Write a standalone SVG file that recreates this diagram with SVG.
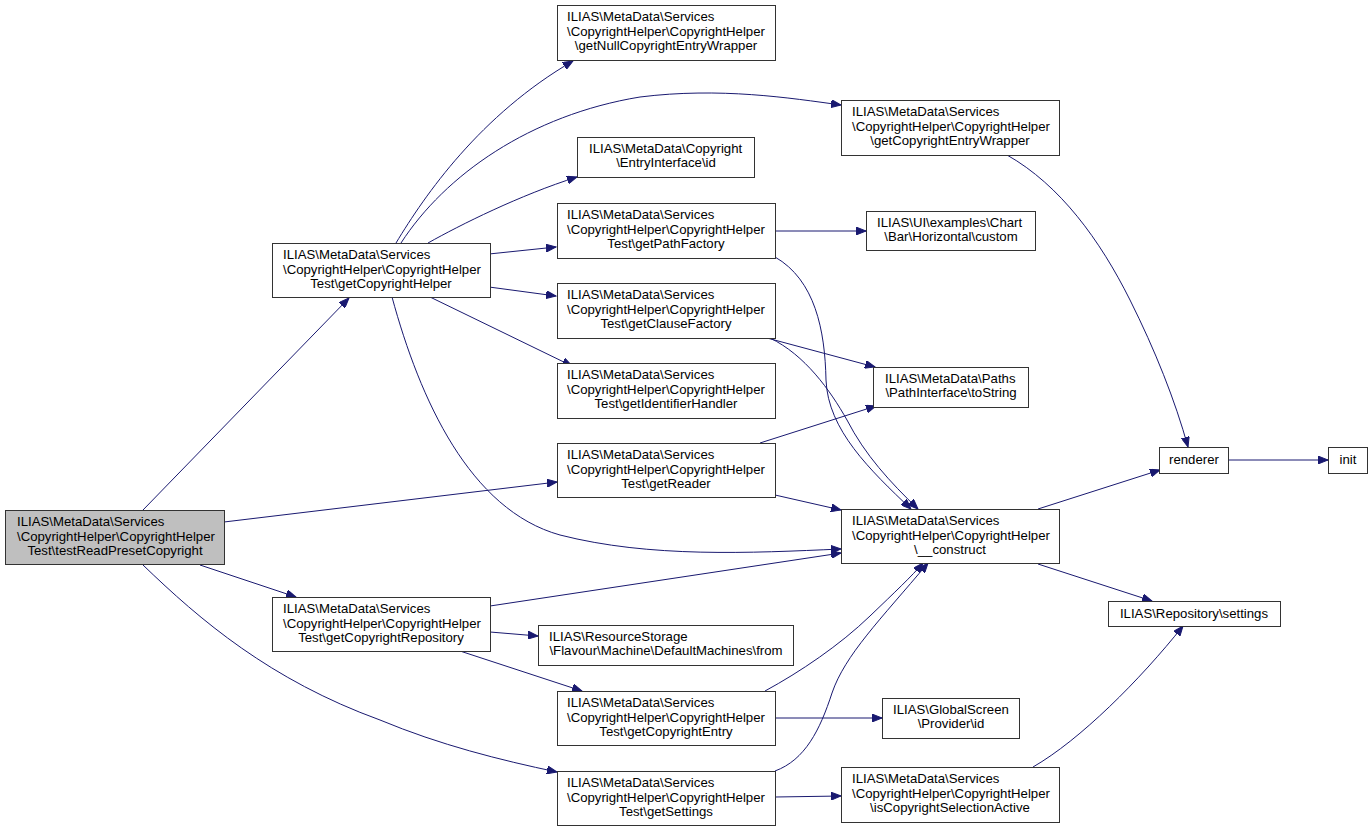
<svg xmlns="http://www.w3.org/2000/svg" width="1372" height="832" viewBox="0 0 1372 832">
<style>
.n rect{fill:#fff;stroke:#333;stroke-width:1}
.n.cur rect{fill:#bfbfbf}
text{font-family:"Liberation Sans",Arial,Helvetica,sans-serif;font-size:13.2px;fill:#000}
.c{text-anchor:middle}
.e path{fill:none;stroke:#191970;stroke-width:1;marker-end:url(#a)}
</style>
<defs>
<marker id="a" markerUnits="userSpaceOnUse" markerWidth="11" markerHeight="8" refX="10" refY="4" orient="auto">
<path d="M0,0 L10,4 L0,8 z" fill="#191970" stroke="#191970" stroke-width="1"/>
</marker>
</defs>
<rect width="1372" height="832" fill="#fff"/>
<g class="e" id="edges">
<path d="M143,510 L349,298"/>
<path d="M224,522 L557,482"/>
<path d="M200,565 L296,597"/>
<path d="M143,565 C200,620 270,680 380,720 C440,745 500,760 557,772"/>
<path d="M396,243 C425,195 480,115 573,61"/>
<path d="M401,243 C445,175 530,115 640,97 C720,87 790,98 841,105"/>
<path d="M428,243 C460,225 520,195 577,177"/>
<path d="M489,254 L556,247"/>
<path d="M489,287 L556,296"/>
<path d="M430,297 L572,366"/>
<path d="M392,297 C420,400 470,510 560,535 C650,558 750,553 841,549"/>
<path d="M775,231 L866,231"/>
<path d="M775,257 C815,280 825,330 826,380 C828,430 870,470 911,509"/>
<path d="M770,338 C805,355 830,390 847,420 C865,455 890,482 918,509"/>
<path d="M767,338 L875,367"/>
<path d="M760,443 L876,406"/>
<path d="M775,495 L841,510"/>
<path d="M1007,155 C1060,185 1100,240 1130,300 C1155,350 1175,400 1188,447"/>
<path d="M1038,509 L1160,470"/>
<path d="M1228,460 L1328,460"/>
<path d="M1038,564 L1152,601"/>
<path d="M1033,767 C1080,740 1140,680 1183,626"/>
<path d="M490,606 L841,553"/>
<path d="M490,632 L538,636"/>
<path d="M460,651 L582,691"/>
<path d="M765,691 C800,672 840,645 870,616 C895,592 912,576 923,563"/>
<path d="M775,771 C805,760 820,730 832,693 C845,655 880,620 928,563"/>
<path d="M775,718 L882,718"/>
<path d="M775,797 L841,796"/>
</g>
<g class="n cur" id="n1"><rect x="5.5" y="510.5" width="219" height="54"/>
<text x="17" y="526">ILIAS\MetaData\Services</text><text x="17" y="541">\CopyrightHelper\CopyrightHelper</text><text class="c" x="115" y="555">Test\testReadPresetCopyright</text></g>
<g class="n" id="n2"><rect x="272.5" y="243.5" width="218" height="54"/>
<text x="283" y="259">ILIAS\MetaData\Services</text><text x="283" y="274">\CopyrightHelper\CopyrightHelper</text><text class="c" x="381" y="288">Test\getCopyrightHelper</text></g>
<g class="n" id="n3"><rect x="557.5" y="5.5" width="218" height="55"/>
<text x="567" y="21">ILIAS\MetaData\Services</text><text x="567" y="36">\CopyrightHelper\CopyrightHelper</text><text class="c" x="666" y="50">\getNullCopyrightEntryWrapper</text></g>
<g class="n" id="n4"><rect x="841.5" y="100.5" width="218" height="55"/>
<text x="852" y="116">ILIAS\MetaData\Services</text><text x="852" y="131">\CopyrightHelper\CopyrightHelper</text><text class="c" x="950" y="145">\getCopyrightEntryWrapper</text></g>
<g class="n" id="n5"><rect x="577.5" y="137.5" width="177" height="40"/>
<text x="589" y="153">ILIAS\MetaData\Copyright</text><text class="c" x="666" y="167">\EntryInterface\id</text></g>
<g class="n" id="n6"><rect x="557.5" y="203.5" width="218" height="55"/>
<text x="567" y="219">ILIAS\MetaData\Services</text><text x="567" y="234">\CopyrightHelper\CopyrightHelper</text><text class="c" x="666" y="248">Test\getPathFactory</text></g>
<g class="n" id="n7"><rect x="866.5" y="211.5" width="169" height="39"/>
<text x="877" y="227">ILIAS\UI\examples\Chart</text><text class="c" x="951" y="241">\Bar\Horizontal\custom</text></g>
<g class="n" id="n8"><rect x="557.5" y="283.5" width="218" height="55"/>
<text x="567" y="299">ILIAS\MetaData\Services</text><text x="567" y="314">\CopyrightHelper\CopyrightHelper</text><text class="c" x="666" y="328">Test\getClauseFactory</text></g>
<g class="n" id="n9"><rect x="557.5" y="363.5" width="218" height="55"/>
<text x="567" y="379">ILIAS\MetaData\Services</text><text x="567" y="394">\CopyrightHelper\CopyrightHelper</text><text class="c" x="666" y="408">Test\getIdentifierHandler</text></g>
<g class="n" id="n10"><rect x="873.5" y="367.5" width="155" height="40"/>
<text x="885" y="383">ILIAS\MetaData\Paths</text><text class="c" x="951" y="397">\PathInterface\toString</text></g>
<g class="n" id="n11"><rect x="557.5" y="443.5" width="218" height="54"/>
<text x="567" y="459">ILIAS\MetaData\Services</text><text x="567" y="474">\CopyrightHelper\CopyrightHelper</text><text class="c" x="666" y="488">Test\getReader</text></g>
<g class="n" id="n12"><rect x="841.5" y="509.5" width="218" height="54"/>
<text x="852" y="525">ILIAS\MetaData\Services</text><text x="852" y="540">\CopyrightHelper\CopyrightHelper</text><text class="c" x="950" y="554">\__construct</text></g>
<g class="n" id="n13"><rect x="1159.5" y="447.5" width="69" height="26"/>
<text class="c" x="1194" y="464">renderer</text></g>
<g class="n" id="n14"><rect x="1328.5" y="447.5" width="39" height="26"/>
<text class="c" x="1348" y="464">init</text></g>
<g class="n" id="n15"><rect x="1108.5" y="601.5" width="172" height="25"/>
<text class="c" x="1194" y="618">ILIAS\Repository\settings</text></g>
<g class="n" id="n16"><rect x="272.5" y="597.5" width="218" height="54"/>
<text x="283" y="613">ILIAS\MetaData\Services</text><text x="283" y="628">\CopyrightHelper\CopyrightHelper</text><text class="c" x="381" y="642">Test\getCopyrightRepository</text></g>
<g class="n" id="n17"><rect x="538.5" y="625.5" width="255" height="40"/>
<text x="549" y="641">ILIAS\ResourceStorage</text><text class="c" x="666" y="655">\Flavour\Machine\DefaultMachines\from</text></g>
<g class="n" id="n18"><rect x="557.5" y="691.5" width="218" height="54"/>
<text x="567" y="707">ILIAS\MetaData\Services</text><text x="567" y="722">\CopyrightHelper\CopyrightHelper</text><text class="c" x="666" y="736">Test\getCopyrightEntry</text></g>
<g class="n" id="n19"><rect x="882.5" y="698.5" width="137" height="40"/>
<text x="893" y="714">ILIAS\GlobalScreen</text><text class="c" x="951" y="728">\Provider\id</text></g>
<g class="n" id="n20"><rect x="557.5" y="771.5" width="218" height="54"/>
<text x="567" y="787">ILIAS\MetaData\Services</text><text x="567" y="802">\CopyrightHelper\CopyrightHelper</text><text class="c" x="666" y="816">Test\getSettings</text></g>
<g class="n" id="n21"><rect x="841.5" y="767.5" width="218" height="55"/>
<text x="852" y="783">ILIAS\MetaData\Services</text><text x="852" y="798">\CopyrightHelper\CopyrightHelper</text><text class="c" x="950" y="812">\isCopyrightSelectionActive</text></g>
</svg>
